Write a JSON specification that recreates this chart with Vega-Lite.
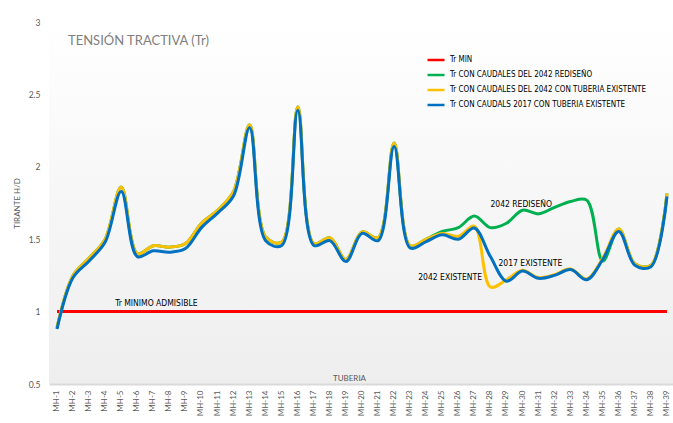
{
  "$schema": "https://vega.github.io/schema/vega-lite/v6.json",
  "width": 626,
  "height": 362,
  "autosize": {"type": "none"},
  "padding": {"left": 49, "top": 22, "right": 0, "bottom": 39},
  "background": "#ffffff",
  "title": {
    "text": "TENSIÓN TRACTIVA (Tr)",
    "anchor": "start",
    "frame": "group",
    "dx": 19,
    "dy": 30,
    "offset": 0,
    "font": "Lato",
    "fontSize": 13,
    "fontWeight": "normal",
    "color": "#7f7f7f"
  },
  "config": {
    "font": "Lato",
    "view": {
      "stroke": null,
      "fill": {
        "gradient": "linear",
        "x1": 0, "y1": 0, "x2": 0, "y2": 1,
        "stops": [
          {"offset": 0, "color": "#ffffff"},
          {"offset": 1, "color": "#eeeeee"}
        ]
      }
    }
  },
  "datasets": {
    "tension": [
      {"tub": "MH-1", "min": 1, "red": 0.89, "ex42": 0.89, "ex17": 0.88},
      {"tub": "MH-2", "min": 1, "red": 1.25, "ex42": 1.25, "ex17": 1.235},
      {"tub": "MH-3", "min": 1, "red": 1.37, "ex42": 1.37, "ex17": 1.35},
      {"tub": "MH-4", "min": 1, "red": 1.5, "ex42": 1.5, "ex17": 1.48},
      {"tub": "MH-5", "min": 1, "red": 1.86, "ex42": 1.86, "ex17": 1.83},
      {"tub": "MH-6", "min": 1, "red": 1.4, "ex42": 1.4, "ex17": 1.38},
      {"tub": "MH-7", "min": 1, "red": 1.455, "ex42": 1.455, "ex17": 1.42},
      {"tub": "MH-8", "min": 1, "red": 1.445, "ex42": 1.445, "ex17": 1.41},
      {"tub": "MH-9", "min": 1, "red": 1.47, "ex42": 1.47, "ex17": 1.435},
      {"tub": "MH-10", "min": 1, "red": 1.61, "ex42": 1.61, "ex17": 1.58},
      {"tub": "MH-11", "min": 1, "red": 1.7, "ex42": 1.7, "ex17": 1.68},
      {"tub": "MH-12", "min": 1, "red": 1.83, "ex42": 1.83, "ex17": 1.8},
      {"tub": "MH-13", "min": 1, "red": 2.29, "ex42": 2.29, "ex17": 2.27},
      {"tub": "MH-14", "min": 1, "red": 1.515, "ex42": 1.515, "ex17": 1.49},
      {"tub": "MH-15", "min": 1, "red": 1.48, "ex42": 1.48, "ex17": 1.457},
      {"tub": "MH-16", "min": 1, "red": 2.415, "ex42": 2.415, "ex17": 2.39},
      {"tub": "MH-17", "min": 1, "red": 1.47, "ex42": 1.47, "ex17": 1.457},
      {"tub": "MH-18", "min": 1, "red": 1.51, "ex42": 1.51, "ex17": 1.49},
      {"tub": "MH-19", "min": 1, "red": 1.36, "ex42": 1.36, "ex17": 1.346},
      {"tub": "MH-20", "min": 1, "red": 1.55, "ex42": 1.55, "ex17": 1.54},
      {"tub": "MH-21", "min": 1, "red": 1.51, "ex42": 1.51, "ex17": 1.49},
      {"tub": "MH-22", "min": 1, "red": 2.165, "ex42": 2.165, "ex17": 2.14},
      {"tub": "MH-23", "min": 1, "red": 1.455, "ex42": 1.455, "ex17": 1.44},
      {"tub": "MH-24", "min": 1, "red": 1.5, "ex42": 1.5, "ex17": 1.484},
      {"tub": "MH-25", "min": 1, "red": 1.553, "ex42": 1.54, "ex17": 1.53},
      {"tub": "MH-26", "min": 1, "red": 1.58, "ex42": 1.52, "ex17": 1.5},
      {"tub": "MH-27", "min": 1, "red": 1.66, "ex42": 1.59, "ex17": 1.577},
      {"tub": "MH-28", "min": 1, "red": 1.58, "ex42": 1.17, "ex17": 1.38},
      {"tub": "MH-29", "min": 1, "red": 1.61, "ex42": 1.22, "ex17": 1.21},
      {"tub": "MH-30", "min": 1, "red": 1.7, "ex42": 1.285, "ex17": 1.28},
      {"tub": "MH-31", "min": 1, "red": 1.675, "ex42": 1.235, "ex17": 1.23},
      {"tub": "MH-32", "min": 1, "red": 1.72, "ex42": 1.255, "ex17": 1.25},
      {"tub": "MH-33", "min": 1, "red": 1.76, "ex42": 1.295, "ex17": 1.29},
      {"tub": "MH-34", "min": 1, "red": 1.77, "ex42": 1.225, "ex17": 1.22},
      {"tub": "MH-35", "min": 1, "red": 1.35, "ex42": 1.37, "ex17": 1.36},
      {"tub": "MH-36", "min": 1, "red": 1.57, "ex42": 1.57, "ex17": 1.553},
      {"tub": "MH-37", "min": 1, "red": 1.33, "ex42": 1.33, "ex17": 1.32},
      {"tub": "MH-38", "min": 1, "red": 1.32, "ex42": 1.32, "ex17": 1.31},
      {"tub": "MH-39", "min": 1, "red": 1.815, "ex42": 1.815, "ex17": 1.795}
    ],
    "notas": [
      {"tub": "MH-5", "v": 1.06, "texto": "Tr MINIMO ADMISIBLE", "dx": 0},
      {"tub": "MH-28", "v": 1.745, "texto": "2042 REDISEÑO", "dx": 3},
      {"tub": "MH-28", "v": 1.337, "texto": "2017 EXISTENTE", "dx": 7},
      {"tub": "MH-24", "v": 1.24, "texto": "2042 EXISTENTE", "dx": -1}
    ]
  },
  "layer": [
    {
      "data": {"name": "tension"},
      "transform": [
        {"fold": ["min", "red", "ex42", "ex17"], "as": ["serie", "valor"]}
      ],
      "mark": {"type": "line", "interpolate": "catmull-rom", "strokeWidth": 3},
      "encoding": {
        "x": {
          "field": "tub",
          "type": "nominal",
          "sort": null,
          "axis": {
            "title": "TUBERIA",
            "titleFont": "Lato",
            "titleFontSize": 8,
            "titleFontWeight": "normal",
            "titleColor": "#595959",
            "titleX": 300,
            "titleY": -4,
            "titleBaseline": "alphabetic",
            "labelAngle": -90,
            "labelFontSize": 8,
            "labelColor": "#595959",
            "labelPadding": 6,
            "ticks": false,
            "domainColor": "#d9d9d9",
            "domainWidth": 2,
            "grid": false
          }
        },
        "y": {
          "field": "valor",
          "type": "quantitative",
          "scale": {"domain": [0.5, 3], "nice": false, "zero": false},
          "axis": {
            "values": [0.5, 1, 1.5, 2, 2.5, 3],
            "format": "~g",
            "title": "TIRANTE H/D",
            "titleFontSize": 8,
            "titleFontWeight": "normal",
            "titleColor": "#595959",
            "titleX": -32,
            "titleY": 181,
            "titleAngle": -90,
            "titleAlign": "center",
            "titleBaseline": "middle",
            "labelFontSize": 8.5,
            "labelColor": "#595959",
            "labelPadding": 9,
            "ticks": false,
            "domain": false,
            "grid": false
          }
        },
        "color": {
          "field": "serie",
          "type": "nominal",
          "scale": {
            "domain": ["min", "red", "ex42", "ex17"],
            "range": ["#ff0000", "#00b050", "#ffc000", "#0070c0"]
          },
          "legend": {
            "title": null,
            "orient": "none",
            "legendX": 377,
            "legendY": 28,
            "symbolType": "stroke",
            "symbolSize": 289,
            "symbolStrokeWidth": 2.5,
            "labelFont": "DejaVu Sans Condensed, Lato",
            "labelFontSize": 8,
            "labelColor": "#000000",
            "labelLimit": 0,
            "labelOffset": 4,
            "rowPadding": 0,
            "labelExpr": "datum.value == 'min' ? 'Tr MIN' : datum.value == 'red' ? 'Tr CON CAUDALES DEL 2042 REDISEÑO' : datum.value == 'ex42' ? 'Tr CON CAUDALES DEL 2042 CON TUBERIA EXISTENTE' : 'Tr CON CAUDALS 2017 CON TUBERIA EXISTENTE'"
          }
        }
      }
    },
    {
      "data": {"name": "notas"},
      "mark": {"type": "text", "align": "left", "baseline": "middle", "font": "DejaVu Sans Condensed, Lato", "fontSize": 8.5, "color": "#000000"},
      "encoding": {
        "x": {"field": "tub", "type": "nominal", "sort": null},
        "y": {"field": "v", "type": "quantitative"},
        "xOffset": {"field": "dx", "type": "quantitative", "scale": {"type": "identity"}},
        "text": {"field": "texto"}
      }
    }
  ]
}
